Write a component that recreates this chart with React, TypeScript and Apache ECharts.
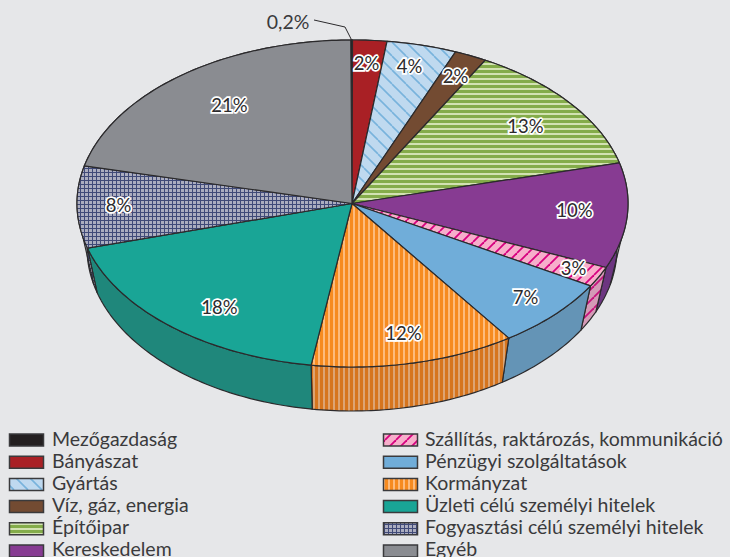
import React, { useEffect, useRef } from "react";
import * as echarts from "echarts";

const categories = [
  "Mezőgazdaság", "Bányászat", "Gyártás", "Víz, gáz, energia", "Építőipar", "Kereskedelem",
  "Szállítás, raktározás, kommunikáció", "Pénzügyi szolgáltatások", "Kormányzat",
  "Üzleti célú személyi hitelek", "Fogyasztási célú személyi hitelek", "Egyéb",
];
// Slice shares (percent)
const shares = [0.1, 2.0, 4.1, 1.9, 13.0, 10.4, 2.0, 7.0, 12.0, 18.2, 8.1, 21.2];
const sliceLabels = ["0,2%", "2%", "4%", "2%", "13%", "10%", "3%", "7%", "12%", "18%", "8%", "21%"];

// Layout: label centres relative to the pie's centre
const labelOffsets = [
  [-64, -182], [14, -141], [57, -138], [103, -128], [173, -78], [222, 6],
  [221, 64], [173, 93], [51, 129], [-133, 103], [-234, 1], [-123, -99],
];
const CX = 352.5, CY = 203.5, RX = 275.5, RY = 163.5;
const BCX = 352, BCY = 248, BRX = 265, BRY = 163;
const BG = "#E6E7E9", INK = "#2B2A2C", TEXT = "#3A3A3C";

const RAD = Math.PI / 180;
const top = (t: number) => [CX + RX * Math.sin(t * RAD), CY - RY * Math.cos(t * RAD)];
const bot = (t: number) => [BCX + BRX * Math.sin(t * RAD), BCY - BRY * Math.cos(t * RAD)];
const arc = (fn: (t: number) => number[], a: number, b: number) => {
  const n = Math.max(2, Math.ceil(Math.abs(b - a)));
  const pts: number[][] = [];
  for (let i = 0; i <= n; i++) pts.push(fn(a + ((b - a) * i) / n));
  return pts;
};

const cumulative: number[] = [];
shares.reduce((s, v) => { cumulative.push(s); return s + v; }, 0);
const startT = (i: number) => (cumulative[i] - shares[0]) * 3.6;
const endT = (i: number) => (cumulative[i] + shares[i] - shares[0]) * 3.6;

type Draw = (c: CanvasRenderingContext2D, s: number) => void;
function tile(size: number, bg: string, draw: Draw) {
  const cv = document.createElement("canvas");
  cv.width = size; cv.height = size;
  const c = cv.getContext("2d")!;
  c.fillStyle = bg; c.fillRect(0, 0, size, size);
  draw(c, size);
  return { image: cv, repeat: "repeat", imageWidth: size, imageHeight: size } as any;
}
const diag = (color: string, w: number, back: boolean): Draw => (c, s) => {
  c.strokeStyle = color; c.lineWidth = w;
  for (const o of [-s, 0, s]) {
    c.beginPath();
    if (back) { c.moveTo(o, 0); c.lineTo(o + s, s); }
    else { c.moveTo(o, s); c.lineTo(o + s, 0); }
    c.stroke();
  }
};
const hStripe = (color: string, h: number): Draw => (c, s) => { c.fillStyle = color; c.fillRect(0, 0, s, h); };
const vStripe = (color: string, w: number): Draw => (c, s) => { c.fillStyle = color; c.fillRect(0, 0, w, s); };
const grid = (color: string): Draw => (c, s) => { c.fillStyle = color; c.fillRect(0, 0, s, 1); c.fillRect(0, 0, 1, s); };

function buildFills() {
  const blue = tile(14, "#BFD9EF", diag("#78B3DC", 1.6, true));
  const green = tile(5, "#D2E2B2", hStripe("#84AC4A", 3));
  const pink = tile(11, "#F7AECB", diag("#D6007F", 1.8, false));
  const orange = tile(5, "#FDBB7C", vStripe("#F68B20", 3));
  const hatch = tile(4, "#ABADBF", grid("#404A78"));
  const faces: any[] = ["#231F20", "#A92025", blue, "#734B32", green, "#873B92", pink, "#70ADD9", orange, "#19A596", hatch, "#8A8C91"];
  const walls: any[] = [
    "#231F20", "#8A1A1E", blue, "#5E3D29", green, "#6C3580",
    tile(11, "#D49AB6", diag("#C6127C", 1.8, false)), "#6494B6",
    tile(5, "#DDA473", vStripe("#D6751E", 3)), "#1F877B", hatch, "#737579",
  ];
  return { faces, walls };
}

const line = { stroke: INK, lineWidth: 1.2, lineJoin: "round" };
// t values where the silhouette leaves the top rim and meets the bottom rim
const rightTangent = [93.5, 103];
const leftTangent = [266.5, 257];

export default function App() {
  const ref = useRef<HTMLDivElement>(null);
  useEffect(() => {
    document.body.style.margin = "0";
    const chart = echarts.init(ref.current!, undefined, { renderer: "svg" });
    const { faces, walls } = buildFills();
    const idx = categories.map((_, i) => i);

    const renderWall = (_: any, api: any) => {
      const i = api.value(0);
      const a = startT(i), b = endT(i);
      const pts = [...arc(top, a, b), ...arc(bot, b, a)];
      const children: any[] = [{
        type: "polygon", shape: { points: pts },
        style: { fill: walls[i], ...line },
      }];
      for (const [tt, tb] of [rightTangent, leftTangent]) {
        if (tt >= a && tt <= b) {
          const p = top(tt), q = bot(tb);
          children.push({
            type: "polygon", shape: { points: [p, q, top(tb)] },
            style: { fill: walls[i] },
          });
          children.push({
            type: "line", shape: { x1: p[0], y1: p[1], x2: q[0], y2: q[1] },
            style: { ...line, fill: null },
          });
        }
      }
      return { type: "group", children };
    };

    const renderFace = (_: any, api: any) => {
      const i = api.value(0);
      return {
        type: "polygon",
        shape: { points: [[CX - 0.5, CY], ...arc(top, startT(i), endT(i))] },
        style: { fill: faces[i], ...line },
      };
    };

    const renderLabel = (_: any, api: any) => {
      const i = api.value(0);
      const [dx, dy] = labelOffsets[i];
      const children: any[] = [];
      if (i === 0) {
        const p = top((startT(0) + endT(0)) / 2);
        children.push({
          type: "polyline",
          shape: { points: [[314, 20], [345, 27], p] },
          style: { stroke: INK, lineWidth: 1, fill: null },
        });
        children.push({
          type: "text", x: 288, y: CY + dy,
          style: { text: sliceLabels[i], font: "19.5px Lato", fill: TEXT, align: "center", verticalAlign: "middle" },
        });
      } else {
        children.push({
          type: "text", x: CX + dx, y: CY + dy,
          style: {
            text: sliceLabels[i], font: "18.5px Lato", fill: INK,
            stroke: "#fff", lineWidth: 3.5, align: "center", verticalAlign: "middle",
          },
        });
      }
      return { type: "group", children };
    };

    const renderLegend = (_: any, api: any) => {
      const i = api.value(0);
      const col = i < 6 ? 0 : 1, row = i % 6;
      const x = col ? 383.5 : 9.5, y = 434 + row * 22.2;
      return {
        type: "group",
        children: [
          { type: "rect", shape: { x, y, width: 34, height: 12 }, style: { fill: faces[i], stroke: "#3A3A3C", lineWidth: 1.5 } },
          {
            type: "text", x: x + (col ? 41.5 : 42.5), y: 438 + row * 22,
            style: { text: categories[i], font: "19.5px Lato", fill: TEXT, align: "left", verticalAlign: "middle" },
          },
        ],
      };
    };

    const custom = (name: string, z: number, renderItem: any) => ({
      type: "custom", name, coordinateSystem: "none", z, silent: true, clip: false,
      data: idx.map((i) => [i, shares[i]]), renderItem,
    });

    chart.setOption({
      animation: false,
      backgroundColor: BG,
      tooltip: { show: false },
      series: [
        custom("walls", 1, renderWall),
        custom("faces", 2, renderFace),
        custom("labels", 3, renderLabel),
        custom("legend", 4, renderLegend),
      ],
    });
    return () => chart.dispose();
  }, []);
  return (
    <div style={{ position: "fixed", left: 0, top: 0, width: 730, height: 557 }}>
      <div ref={ref} style={{ width: 730, height: 557 }} />
    </div>
  );
}
